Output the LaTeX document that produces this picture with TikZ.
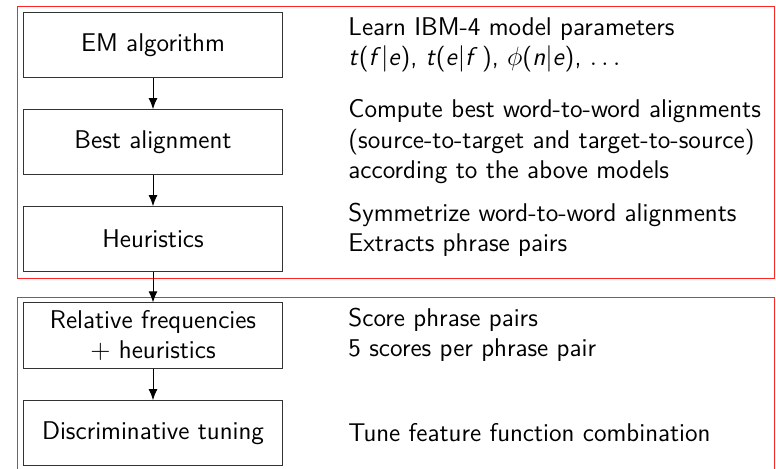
\documentclass[tikz,border=0pt]{standalone}
\usepackage{tikz}
\usetikzlibrary{arrows.meta}

\begin{document}
\begin{tikzpicture}[x=0.0159cm,y=-0.0159cm,font=\fontsize{11.6}{13.8}\selectfont\sffamily,
	stage/.style={draw=black!80,minimum width=4.13cm,minimum height=1.03cm,align=center},
	note/.style={anchor=west,align=left,inner sep=0pt},
	phase/.style={draw=red!85,line width=0.4pt},
	flow/.style={-{Latex[length=5pt,width=4pt]}}]

	\useasboundingbox (0,0) rectangle (776,469);
	% the two phases
	\draw[phase] (17,6) rectangle (774,278);
	\draw[phase] (17,297) rectangle (774,480);

	\node[stage] (em) at (153,45) {EM algorithm};
	\node[stage] (best) at (153,142) {Best alignment};
	\node[stage] (heur) at (153,239) {Heuristics};
	\node[stage] (relfreq) at (153,335.5) {Relative frequencies\\ $+$ heuristics};
	\node[stage] (tuning) at (153,433) {Discriminative tuning};

	\node[note] (em-txt) at (348,45) {Learn IBM-4 model parameters\\
		\textit{t}(\textit{f}$|$\textit{e}), \textit{t}(\textit{e}$|$\textit{f}\,), $\phi$(\textit{n}$|$\textit{e}), $\ldots$};
	\node[note] (best-txt) at (348,142) {Compute best word-to-word alignments\\
		(source-to-target and target-to-source)\\ according to the above models};
	\node[note] (heur-txt) at (348,230) {Symmetrize word-to-word alignments\\ Extracts phrase pairs};
	\node[note] (relfreq-txt) at (348,335) {Score phrase pairs\\ 5 scores per phrase pair};
	\node[note] (tuning-txt) at (348,433) {Tune feature function combination};

	\draw[flow] (em) -- (best);
	\draw[flow] (best) -- (heur);
	\draw[flow] (heur) -- (relfreq);
	\draw[flow] (relfreq) -- (tuning);
\end{tikzpicture}
\end{document}
